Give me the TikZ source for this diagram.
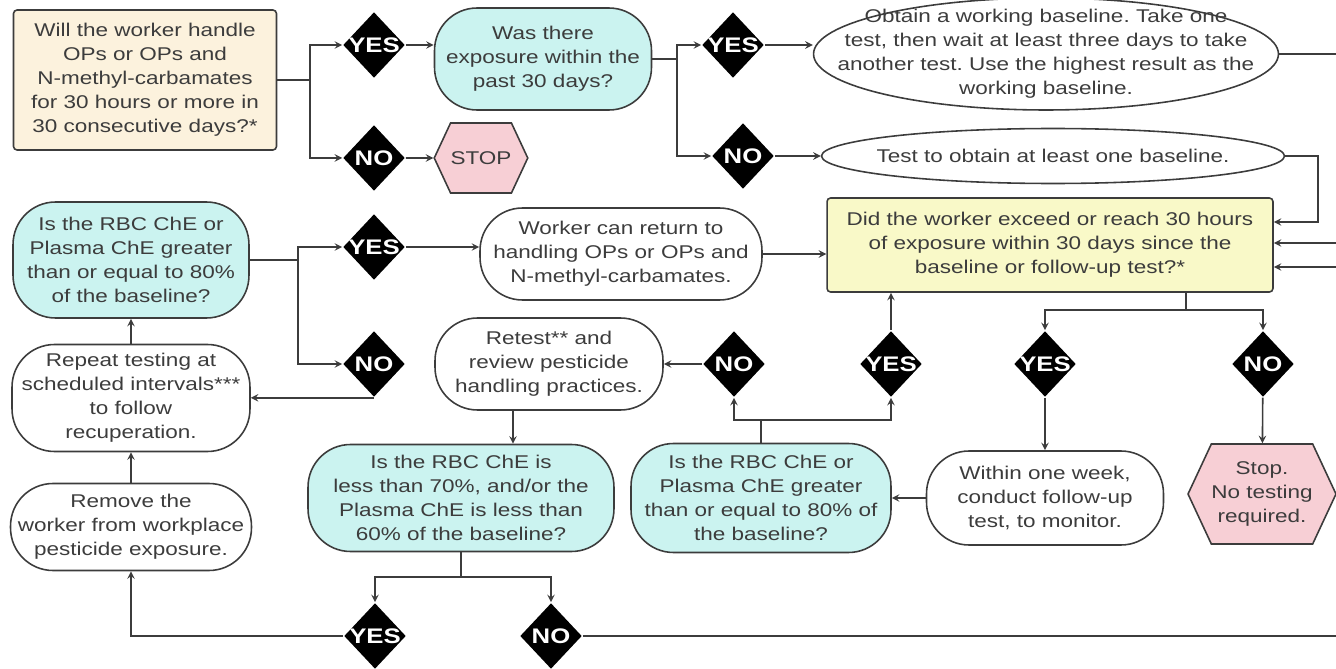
\documentclass[tikz,border=0pt]{standalone}
\usepackage{fontspec}
\setmainfont{Liberation Sans}[FakeStretch=1.22]
\usetikzlibrary{shapes.geometric,shapes.symbols}

\definecolor{ink}{HTML}{3C3C3C}
\definecolor{sand}{HTML}{FCF2DD}
\definecolor{aqua}{HTML}{CBF3F0}
\definecolor{lemon}{HTML}{F9F9C8}
\definecolor{blush}{HTML}{F7CFD5}

\frenchspacing
\begin{document}
\begin{tikzpicture}[-,>=stealth,x=0.02cm,y=-0.02cm,line width=0.9pt,color=ink,
  font=\fontsize{10.5}{13.6}\selectfont,
  dec/.style={diamond,fill=black,text=white,inner xsep=-0.38cm,inner ysep=0pt,minimum width=1.24cm,minimum height=1.32cm,font=\fontsize{12}{12}\selectfont\bfseries},
  qbox/.style={rectangle,draw,rounded corners=2pt,align=center,inner sep=0pt},
  pill/.style={rectangle,draw,rounded corners=0.85cm,align=center,inner sep=0pt},
  oval/.style={ellipse,draw,align=center,inner xsep=-1cm,inner ysep=-0.2cm},
  halt/.style={signal,signal to=west and east,signal from=nowhere,signal pointer angle=130,draw,fill=blush,align=center,inner sep=0pt}]

  \useasboundingbox (0,0) rectangle (1336,669);
  \clip (0,0) rectangle (1336,669);

  % top row
  \node[qbox,fill=sand,minimum width=5.26cm,minimum height=2.8cm] (q1) at (145,80) {Will the worker handle\\OPs or OPs and\\N-methyl-carbamates\\for 30 hours or more in\\30 consecutive days?*};
  \node[dec] (y1) at (374,45) {YES};
  \node[dec] (n1) [below of=y1,node distance=2.26cm] {NO};
  \node[pill,fill=aqua,minimum width=4.34cm,minimum height=2.04cm] (q2) at (543,59) {Was there\\exposure within the\\past 30 days?};
  \node[halt,minimum width=1.84cm,minimum height=1.4cm] (stop) at (481,158) {STOP};
  \node[dec] (y2) at (733,45) {YES};
  \node[dec] (n2) at (743,156) {NO};
  \node[oval,minimum width=9.3cm,minimum height=2.24cm] (ob) at (1046,54) {Obtain a working baseline. Take one\\test, then wait at least three days to take\\another test. Use the highest result as the\\working baseline.};
  \node[oval,minimum width=9.26cm,minimum height=1.1cm] (test) at (1053,156) {Test to obtain at least one baseline.};
  \node[qbox,fill=lemon,minimum width=8.92cm,minimum height=1.88cm] (hours) at (1050,245) {Did the worker exceed or reach 30 hours\\of exposure within 30 days since the\\baseline or follow-up test?*};

  % middle rows
  \node[pill,fill=aqua,minimum width=4.72cm,minimum height=2.32cm] (q3) at (131,260) {Is the RBC ChE or\\Plasma ChE greater\\than or equal to 80\%\\of the baseline?};
  \node[dec] (y3) at (374,247) {YES};
  \node[dec] (n3) at (374,364) {NO};
  \node[pill,minimum width=5.64cm,minimum height=1.84cm] (worker) at (621,254) {Worker can return to\\handling OPs or OPs and\\N-methyl-carbamates.};
  \node[pill,minimum width=4.76cm,minimum height=2.14cm] (repeat) at (131,398) {Repeat testing at\\scheduled intervals***\\to follow\\recuperation.};
  \node[pill,minimum width=4.56cm,minimum height=1.84cm] (retest) at (549,364) {Retest** and\\review pesticide\\handling practices.};
  \node[dec] (n4) at (734,364) {NO};
  \node[dec] (y4) at (891,364) {YES};
  \node[dec] (y5) at (1045,364) {YES};
  \node[dec] (n5) at (1263,364) {NO};

  % bottom rows
  \node[pill,minimum width=4.82cm,minimum height=1.74cm] (remove) at (131,527) {Remove the\\worker from workplace\\pesticide exposure.};
  \node[pill,fill=aqua,minimum width=6.12cm,minimum height=2.14cm] (q4) at (461,498) {Is the RBC ChE is\\less than 70\%, and/or the\\Plasma ChE is less than\\60\% of the baseline?};
  \node[pill,fill=aqua,minimum width=5.2cm,minimum height=2.18cm] (q5) at (761,498) {Is the RBC ChE or\\Plasma ChE greater\\than or equal to 80\% of\\the baseline?};
  \node[pill,minimum width=4.74cm,minimum height=1.88cm] (within) at (1045,498) {Within one week,\\conduct follow-up\\test, to monitor.};
  \node[halt,minimum width=2.72cm,minimum height=2cm] (stop2) at (1262,494) {Stop.\\No testing\\required.};
  \node[dec] (y6) at (375,636) {YES};
  \node[dec] (n6) at (551,636) {NO};

  % first question
  \coordinate (b1) at (310,80);
  \draw (q1.east) -- (b1);
  \draw[->] (b1) |- (y1);
  \draw[->] (b1) |- (n1);
  \draw[->] (y1) -- (y1 -| q2.west);
  \draw[->] (n1) -- (stop);

  % exposure question
  \coordinate (b2) at (677,59);
  \draw (q2.east) -- (b2);
  \draw[->] (b2) |- (y2);
  \draw[->] (b2) |- (n2);
  \draw[->] (y2) -- (y2 -| ob.west);
  \draw[->] (n2) -- (test);

  % into the 30 hours box from the right
  \coordinate (c1) at (1318,222);
  \draw[->] (test.east) -| (c1) -- (c1 -| hours.east);
  \coordinate (r1) at (1360,243);
  \draw[->] (ob.east) -| (r1) -- (r1 -| hours.east);
  \coordinate (r2) at (1350,267);
  \draw[->] (n6) -| (r2) -- (r2 -| hours.east);

  % 30 hours question
  \coordinate (b3) at (1186,310);
  \draw (hours.south -| b3) -- (b3);
  \draw[->] (b3) -| (y5);
  \draw[->] (b3) -| (n5);
  \draw[->] (y5) -- (within);
  \draw[->] (n5) -- (stop2);
  \draw[->] (within) -- (q5);

  % follow-up test
  \coordinate (b4) at (761,420);
  \draw (q5) -- (b4);
  \draw[->] (b4) -| (n4);
  \draw[->] (b4) -| (y4);
  \draw[->] (y4) -- (y4 |- hours.south);
  \draw[->] (n4) -- (retest);

  \coordinate (c2) at (513,0);
  \draw[->] (retest.south -| c2) -- (q4.north -| c2);
  \coordinate (b5) at (461,577);
  \draw (q4) -- (b5);
  \draw[->] (b5) -| (y6);
  \draw[->] (b5) -| (n6);
  \draw[->] (y6) -| (remove);
  \draw[->] (remove) -- (repeat);
  \draw[->] (repeat) -- (q3);

  % recuperation question
  \coordinate (b6) at (298,260);
  \draw (q3.east) -- (b6);
  \draw[->] (b6) |- (y3);
  \draw[->] (b6) |- (n3);
  \draw[->] (y3) -- (y3 -| worker.west);
  \draw[->] (worker.east) -- (worker.east -| hours.west);
  \draw[->] (n3.south) -- (n3.south -| repeat.east);
\end{tikzpicture}
\end{document}
